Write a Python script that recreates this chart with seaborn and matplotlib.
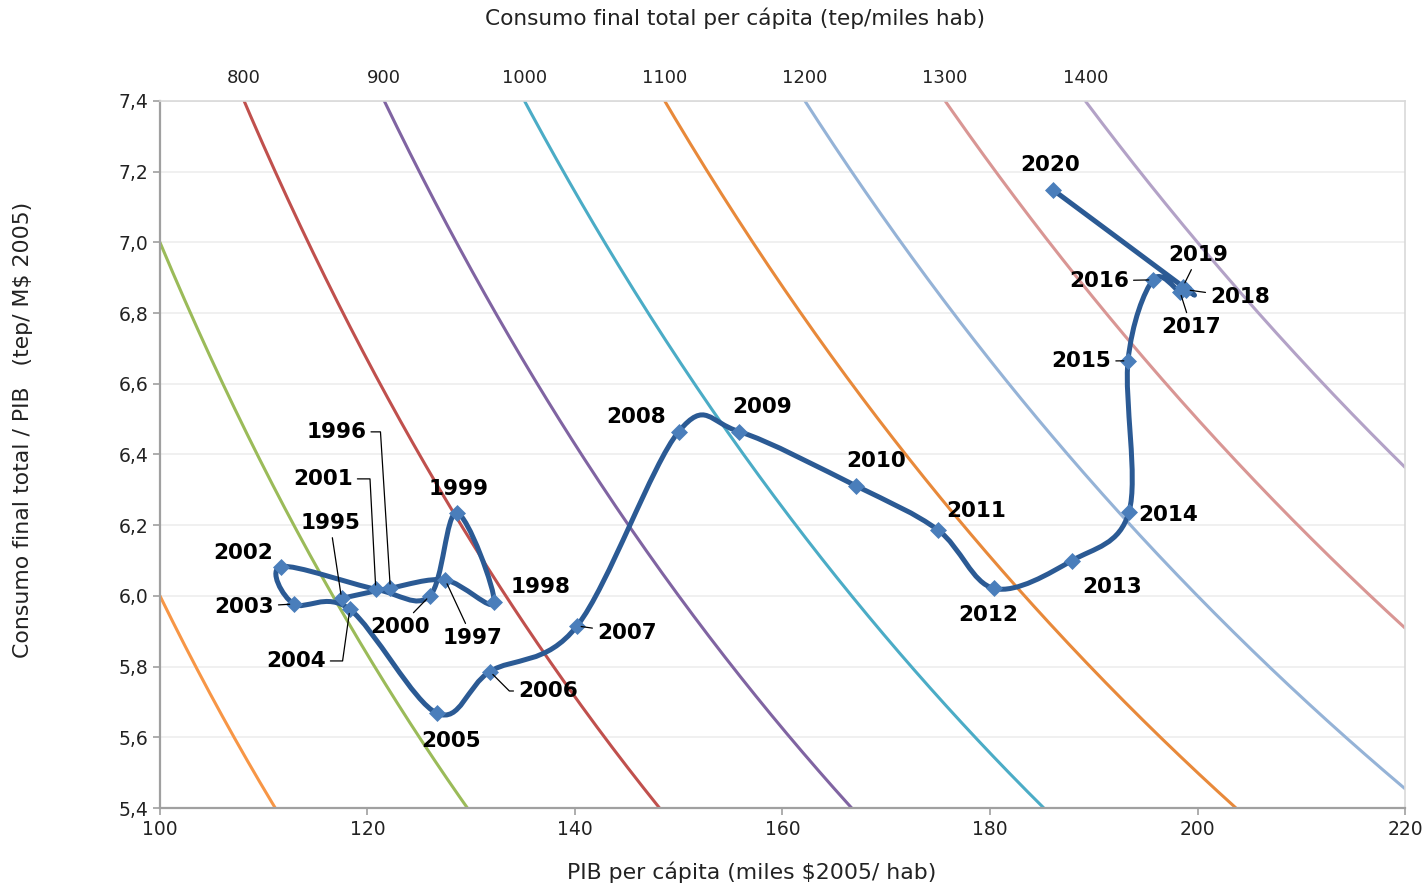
import numpy as np
import pandas as pd
import matplotlib
matplotlib.use("Agg")
import matplotlib.pyplot as plt
import seaborn as sns
from matplotlib.path import Path
from matplotlib.patches import PathPatch

# Datos
anios = [1995, 1996, 1997, 1998, 1999, 2000, 2001, 2002, 2003, 2004,
         2005, 2006, 2007, 2008, 2009, 2010, 2011, 2012, 2013, 2014,
         2015, 2016, 2017, 2018, 2019, 2020]
pib_pc = [117.5, 122.2, 127.5, 132.2, 128.6, 126.0, 120.8, 111.7, 112.9, 118.3,
          126.7, 131.8, 140.2, 150.0, 155.8, 167.1, 175.0, 180.4, 187.9, 193.4,
          193.3, 195.7, 198.3, 198.9, 198.6, 186.1]
intensidad = [5.993, 6.022, 6.045, 5.982, 6.235, 6.000, 6.019, 6.083, 5.977, 5.962,
              5.668, 5.786, 5.915, 6.465, 6.465, 6.311, 6.186, 6.021, 6.100, 6.238,
              6.665, 6.894, 6.861, 6.866, 6.875, 7.148]

# curvas de consumo per cápita constante (tep/miles hab)
niveles = [600, 700, 800, 900, 1000, 1100, 1200, 1300, 1400]
colores = ["#F79646", "#9BBB59", "#C0504D", "#8064A2", "#4BACC6",
           "#E8893A", "#95B3D7", "#D99694", "#B3A2C7"]
niveles_sup = [800, 900, 1000, 1100, 1200, 1300, 1400]

# posición de las etiquetas de año (texto) y ángulo del conector (None = sin conector)
etiquetas = {
    1995: (116.4, 6.206, "-"), 1996: (117.0, 6.464, 93.6), 1997: (130.1, 5.881, "-"),
    1998: (136.7, 6.025, None), 1999: (128.8, 6.302, None), 2000: (123.1, 5.912, "-"),
    2001: (115.7, 6.331, 93.0), 2002: (108.0, 6.121, None), 2003: (108.1, 5.969, "-"),
    2004: (113.1, 5.816, 82.0), 2005: (128.1, 5.590, None), 2006: (137.4, 5.731, 135.0),
    2007: (145.0, 5.895, "-"), 2008: (145.9, 6.506, None), 2009: (158.0, 6.534, None),
    2010: (169.0, 6.382, None), 2011: (178.7, 6.240, None), 2012: (179.8, 5.946, None),
    2013: (191.8, 6.025, None), 2014: (197.2, 6.229, None), 2015: (188.8, 6.664, "-"),
    2016: (190.5, 6.891, "-"), 2017: (199.4, 6.760, "-"), 2018: (204.1, 6.845, "-"),
    2019: (200.1, 6.964, "-"), 2020: (185.8, 7.219, None),
}

XMIN, XMAX, YMIN, YMAX = 100, 220, 5.4, 7.4


def curva_suave(xs, ys):
    """Bezier tipo Excel (Catmull-Rom) a través de los puntos."""
    p = np.column_stack([xs, ys])
    n = len(p)
    verts, codes = [p[0]], [Path.MOVETO]
    for i in range(n - 1):
        p0 = p[i - 1] if i > 0 else p[i]
        p3 = p[i + 2] if i + 2 < n else p[i + 1]
        c1 = p[i] + (p[i + 1] - p0) / 6
        c2 = p[i + 1] - (p3 - p[i]) / 6
        verts += [c1, c2, p[i + 1]]
        codes += [Path.CURVE4] * 3
    return Path(verts, codes)


sns.set_theme(style="white")
plt.rcParams["font.family"] = ["DejaVu Sans"]

fig = plt.figure(figsize=(14.27, 8.85), dpi=100)
ax = fig.add_axes([0.1121, 0.0870, 0.8725, 0.7989])

# curvas iso-consumo
xx = np.linspace(XMIN, XMAX, 400)
iso = pd.DataFrame([(x, n / x, n) for n in niveles for x in xx],
                   columns=["pib", "int", "nivel"])
sns.lineplot(data=iso, x="pib", y="int", hue="nivel", palette=dict(zip(niveles, colores)),
             sort=False, estimator=None, legend=False, linewidth=2.2, ax=ax, zorder=2)

# trayectoria
ax.add_patch(PathPatch(curva_suave(pib_pc, intensidad), facecolor="none",
                       edgecolor="#2B5A94", lw=3.6, zorder=4, capstyle="round", joinstyle="round"))
sns.scatterplot(x=pib_pc, y=intensidad, marker="D", s=75, color="#4A7EBB",
                edgecolor="#4A7EBB", linewidth=0, ax=ax, zorder=5)

for anio, x, y in zip(anios, pib_pc, intensidad):
    tx, ty, tipo = etiquetas[anio]
    props = None
    if tipo == "-":
        props = dict(arrowstyle="-", color="black", lw=0.9, shrinkA=1, shrinkB=3)
    elif tipo is not None:
        props = dict(arrowstyle="-", color="black", lw=0.9, shrinkA=1, shrinkB=3,
                     connectionstyle=f"angle,angleA=0,angleB={tipo},rad=0")
    ax.annotate(str(anio), xy=(x, y), xytext=(tx, ty), ha="center", va="center",
                fontsize=15.5, fontweight="bold", color="black", arrowprops=props, zorder=6)

ax.set_xlim(XMIN, XMAX)
ax.set_ylim(YMIN, YMAX)
ax.set_xticks(range(100, 221, 20))
ax.set_yticks(np.round(np.arange(5.4, 7.41, 0.2), 1))
ax.set_yticklabels([f"{v:.1f}".replace(".", ",") for v in np.arange(5.4, 7.41, 0.2)])
ax.yaxis.grid(True, color="#EDEDED", lw=1.2)
ax.xaxis.grid(False)
ax.tick_params(axis="both", labelsize=13.5, colors="#222222", length=5, width=1.2,
               direction="out", left=True, bottom=True)
ax.tick_params(axis="both", color="#A0A0A0")
for s in ["left", "bottom"]:
    ax.spines[s].set_color("#A0A0A0")
    ax.spines[s].set_linewidth(1.6)
for s in ["top", "right"]:
    ax.spines[s].set_color("#D9D9D9")
    ax.spines[s].set_linewidth(1.2)

ax.set_xlabel("PIB per cápita (miles $2005/ hab)", fontsize=15.8, color="#222222")
ax.xaxis.set_label_coords(0.4755, -0.076)
ax.set_ylabel("Consumo final total / PIB   (tep/ M$ 2005)", fontsize=15.8, color="#222222")
ax.yaxis.set_label_coords(-0.102, 0.535)

# eje superior: consumo per cápita
sup = ax.secondary_xaxis("top")
sup.set_xticks([n / YMAX for n in niveles_sup])
sup.set_xticklabels([str(n) for n in niveles_sup])
sup.tick_params(length=0, labelsize=13, colors="#222222", pad=10)
sup.spines["top"].set_visible(False)
fig.text(735 / 1427, 1 - 18 / 885, "Consumo final total per cápita (tep/miles hab)",
         ha="center", va="center", fontsize=15.6, color="#222222")

fig.savefig("out.png", dpi=100)
